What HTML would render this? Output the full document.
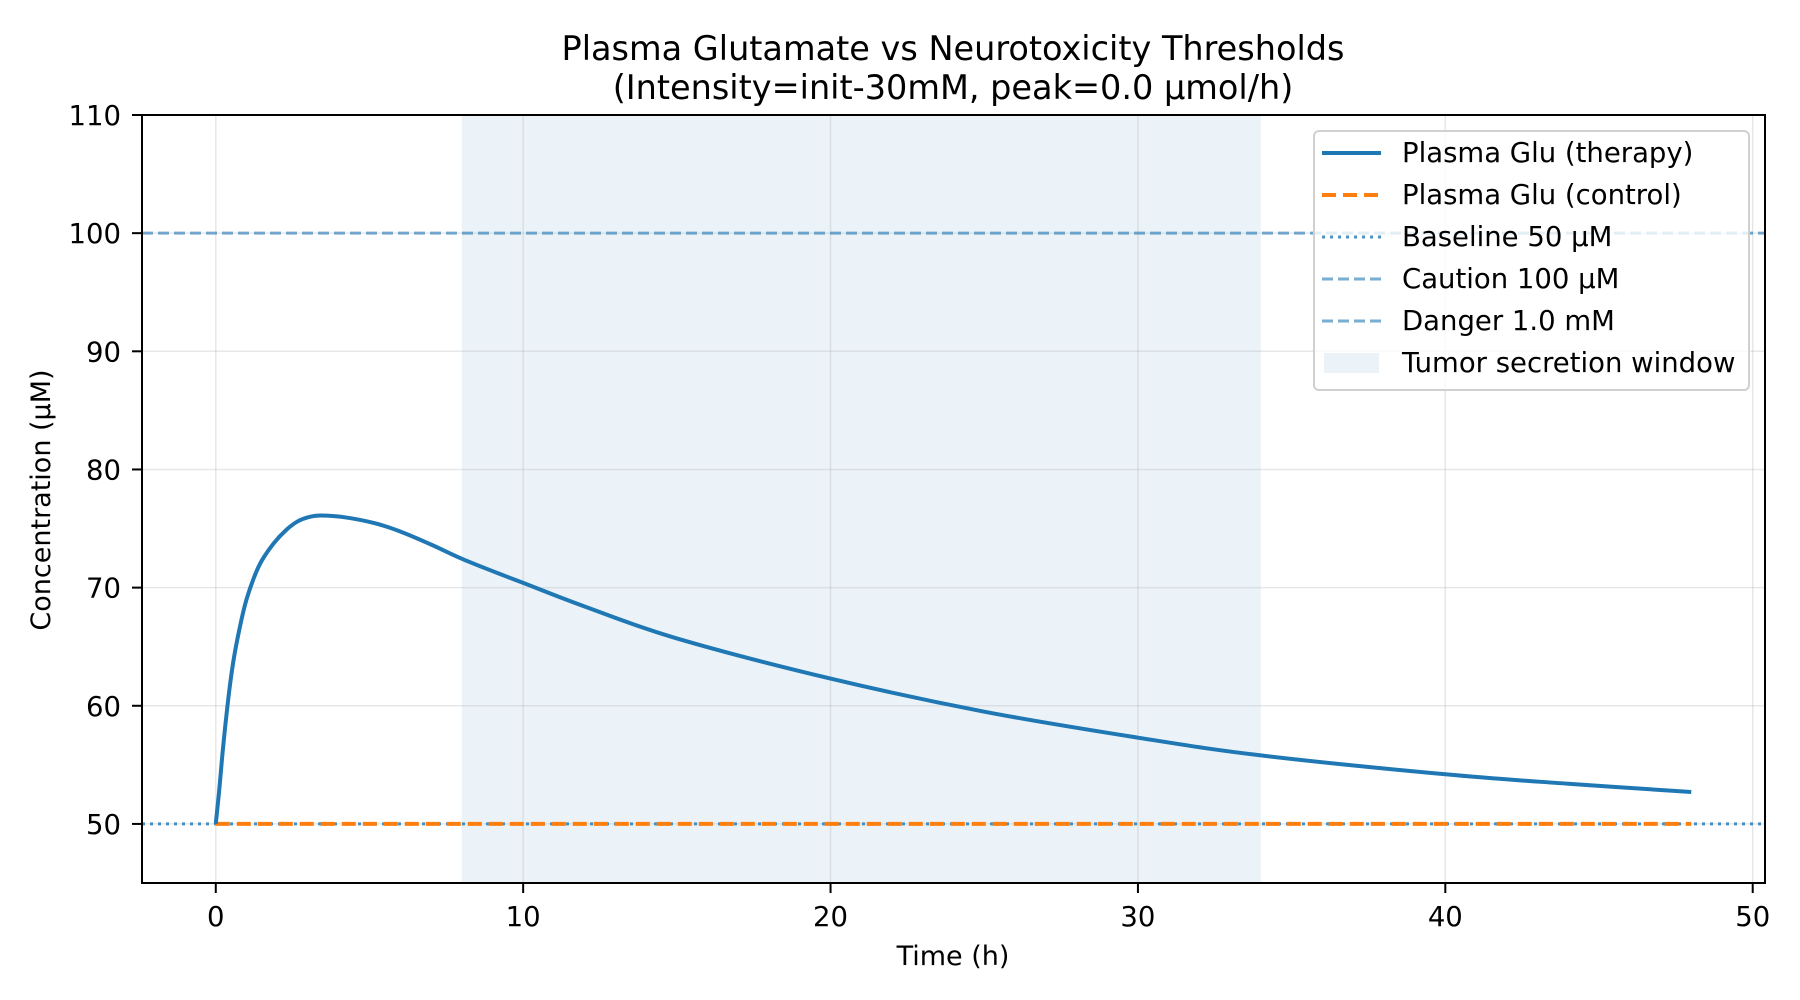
<!DOCTYPE html>
<html><head><meta charset="utf-8"><style>
html,body{margin:0;padding:0;background:#fff}
svg{display:block;font-family:"DejaVu Sans","Liberation Sans",sans-serif}
</style></head><body>
<svg id="chart" width="1800" height="1000" viewBox="0 0 1800 1000" xmlns="http://www.w3.org/2000/svg">
<text x="953" y="60" font-size="33.5" text-anchor="middle">Plasma Glutamate vs Neurotoxicity Thresholds</text>
<text x="953" y="99" font-size="33.5" text-anchor="middle">(Intensity=init-30mM, peak=0.0 μmol/h)</text>
<g id="plot"></g>
<text x="953" y="965" font-size="27" text-anchor="middle">Time (h)</text>
<text x="0" y="0" font-size="27" text-anchor="middle" transform="translate(50,500) rotate(-90)">Concentration (μM)</text>
<g>
<rect x="1314" y="131" width="435" height="259" rx="5" fill="#fff" fill-opacity="0.8" stroke="#d0d0d0" stroke-width="2"/>
<g><line x1="1322" y1="153" x2="1381" y2="153" stroke="#1f77b4" stroke-width="4"/><text x="1402" y="162" font-size="27.5">Plasma Glu (therapy)</text></g>
<g><line x1="1322" y1="195" x2="1381" y2="195" stroke="#ff7f0e" stroke-width="4" stroke-dasharray="14,7"/><text x="1402" y="204" font-size="27.5">Plasma Glu (control)</text></g>
<g><line x1="1322" y1="237" x2="1381" y2="237" stroke="#1f77b4" stroke-opacity="0.8" stroke-width="3" stroke-dasharray="3,5"/><text x="1402" y="246" font-size="27.5">Baseline 50 μM</text></g>
<g><line x1="1322" y1="279" x2="1381" y2="279" stroke="#1f77b4" stroke-opacity="0.6" stroke-width="3" stroke-dasharray="11,5"/><text x="1402" y="288" font-size="27.5">Caution 100 μM</text></g>
<g><line x1="1322" y1="321" x2="1381" y2="321" stroke="#1f77b4" stroke-opacity="0.6" stroke-width="3" stroke-dasharray="11,5"/><text x="1402" y="330" font-size="27.5">Danger 1.0 mM</text></g>
<g><rect x="1324" y="353" width="55" height="20" fill="#1f77b4" fill-opacity="0.09"/><text x="1402" y="372" font-size="27.5">Tumor secretion window</text></g>
</g>
</svg>
<script>
const timeH = [0, 0.11, 0.25, 0.44, 0.6, 0.82, 1.0, 1.25, 1.5, 1.9, 2.3, 2.66, 3.0, 3.42, 4.2, 5.17, 6.0, 7.0, 8, 9, 10, 12, 15, 20, 25, 30, 34, 40, 44, 48];
const therapyUM = [50, 52.8, 56.8, 61.3, 64.2, 67.1, 69.0, 70.9, 72.3, 73.8, 74.9, 75.6, 75.95, 76.1, 75.95, 75.45, 74.75, 73.65, 72.45, 71.4, 70.4, 68.4, 65.7, 62.3, 59.5, 57.3, 55.8, 54.2, 53.4, 52.7];
const controlT = [0, 48];
const controlUM = [50, 50];
const thresholds = [50, 100, 1000];
const windowRange = [8, 34];
const xTicks = [0, 10, 20, 30, 40, 50];
const yTicks = [50, 60, 70, 80, 90, 100, 110];

const L=142,R=1765,T=115,B=883,XMIN=-2.4,XMAX=50.4,YMIN=45,YMAX=110;
const xs=v=>L+(v-XMIN)/(XMAX-XMIN)*(R-L);
const ys=v=>B-(v-YMIN)/(YMAX-YMIN)*(B-T);
const NS='http://www.w3.org/2000/svg';
const plot=document.getElementById('plot');
function mk(tag,attrs,parent){const e=document.createElementNS(NS,tag);for(const k in attrs)e.setAttribute(k,attrs[k]);(parent||plot).appendChild(e);return e;}
const clip=mk('clipPath',{id:'cp'});mk('rect',{x:L,y:T,width:R-L,height:B-T},clip);

const win=mk('rect',{x:xs(windowRange[0]),y:T,width:xs(windowRange[1])-xs(windowRange[0]),height:B-T,fill:'#1f77b4','fill-opacity':0.09});



xTicks.forEach(v=>{
  const g=mk('line',{x1:xs(v),x2:xs(v),y1:T,y2:B,stroke:'#b0b0b0','stroke-opacity':0.3,'stroke-width':1.5,'clip-path':'url(#cp)'});
  
  
  const t=mk('line',{x1:xs(v),x2:xs(v),y1:B,y2:B+10,stroke:'#000','stroke-width':2});
  
  
  const lb=mk('text',{x:xs(v),y:926,'font-size':27.5,'text-anchor':'middle'});lb.textContent=v;
  
  
});
yTicks.forEach(v=>{
  const g=mk('line',{x1:L,x2:R,y1:ys(v),y2:ys(v),stroke:'#b0b0b0','stroke-opacity':0.3,'stroke-width':1.5});
  
  
  const t=mk('line',{x1:L-10,x2:L,y1:ys(v),y2:ys(v),stroke:'#000','stroke-width':2});
  
  
  const lb=mk('text',{x:121,y:ys(v)+10,'font-size':27.5,'text-anchor':'end'});lb.textContent=v;
  
  
});
const thStyles=[{d:'3,5',o:0.8},{d:'11,5',o:0.6},{d:'11,5',o:0.6}];
const thNames=['baseline-line','caution-line','danger-line'];
thresholds.forEach((v,i)=>{
  const l=mk('line',{x1:L,x2:R,y1:ys(v),y2:ys(v),stroke:'#1f77b4','stroke-opacity':thStyles[i].o,'stroke-width':3,'stroke-dasharray':thStyles[i].d,'clip-path':'url(#cp)'});
  
  
});
const cp=mk('polyline',{points:controlT.map((t,i)=>xs(t)+','+ys(controlUM[i])).join(' '),fill:'none',stroke:'#ff7f0e','stroke-width':4,'stroke-dasharray':'14,7','clip-path':'url(#cp)'});


const P=timeH.map((t,i)=>[xs(t),ys(therapyUM[i])]);
let d='M'+P[0][0]+','+P[0][1];
for(let i=0;i<P.length-1;i++){const p0=P[Math.max(i-1,0)],p1=P[i],p2=P[i+1],p3=P[Math.min(i+2,P.length-1)];
d+=' C'+(p1[0]+(p2[0]-p0[0])/6)+','+(p1[1]+(p2[1]-p0[1])/6)+' '+(p2[0]-(p3[0]-p1[0])/6)+','+(p2[1]-(p3[1]-p1[1])/6)+' '+p2[0]+','+p2[1];}
const tp=mk('path',{d:d,fill:'none',stroke:'#1f77b4','stroke-width':4,'stroke-linejoin':'round','clip-path':'url(#cp)'});


const fr=mk('rect',{x:L,y:T,width:R-L,height:B-T,fill:'none',stroke:'#000','stroke-width':2});


</script>
</body></html>
